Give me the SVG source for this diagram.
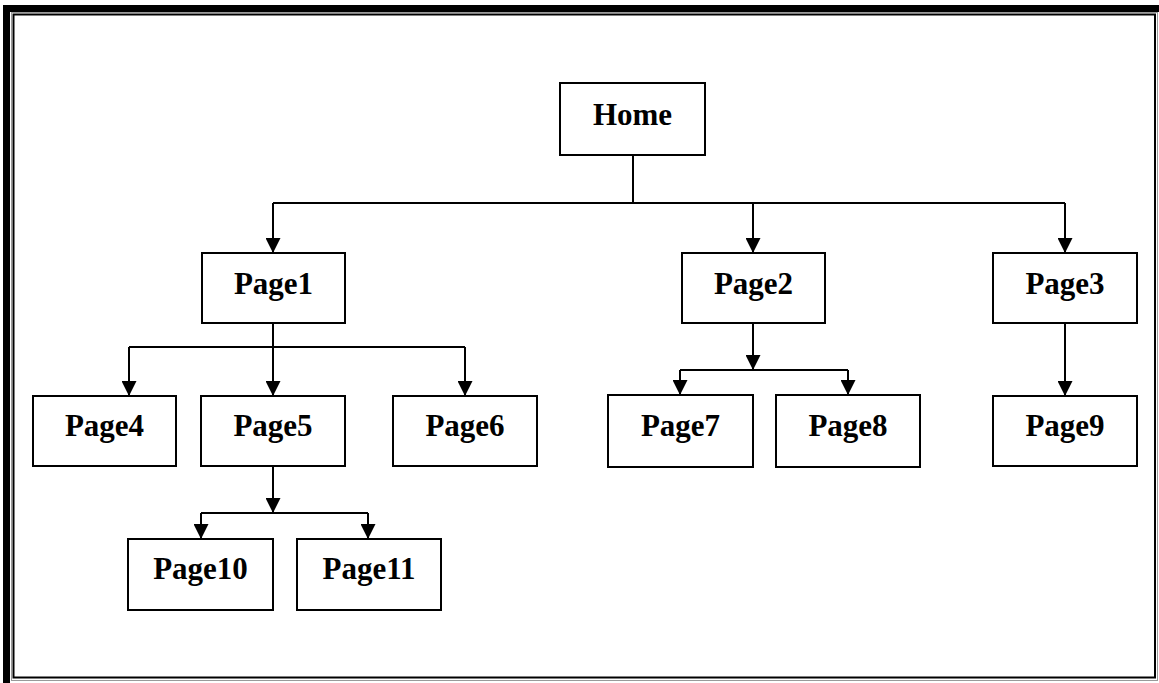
<svg xmlns="http://www.w3.org/2000/svg" width="1159" height="683" viewBox="0 0 1159 683">
  <defs>
    <marker id="arrow" viewBox="0 0 15 15" refX="15" refY="7.5" markerWidth="15" markerHeight="15" markerUnits="userSpaceOnUse" orient="auto">
      <path d="M0,0 L15,7.5 L0,15 Z" fill="#000"/>
    </marker>
    <style>
      .box { fill: #fff; stroke: #000; stroke-width: 2; }
      .lbl { font-family: "Liberation Serif", "Times New Roman", serif; font-weight: bold; font-size: 31px; text-anchor: middle; fill: #000; }
      .line { fill: none; stroke: #000; stroke-width: 2; }
      .arr { fill: none; stroke: #000; stroke-width: 2; marker-end: url(#arrow); }
    </style>
  </defs>

  <rect width="1159" height="683" fill="#fff"/>

  <!-- page frame: thick outer band with thin double inner rule -->
  <g id="frame">
    <rect x="3" y="5" width="7" height="678" fill="#000"/>
    <rect x="3" y="5" width="1156" height="7" fill="#000"/>
    <rect x="11.5" y="12.5" width="1146" height="668" fill="none" stroke="#9a9a9a" stroke-width="1"/>
    <rect x="13.5" y="14.5" width="1141.5" height="663" fill="none" stroke="#000" stroke-width="2"/>
  </g>

  <!-- connectors -->
  <g id="connectors">
    <path class="line" d="M633,155 V203 M273,203 H1065"/>
    <path class="arr" d="M273,203 V253"/>
    <path class="arr" d="M753,203 V253"/>
    <path class="arr" d="M1065,203 V253"/>

    <path class="line" d="M273,323 V347 M129,347 H465"/>
    <path class="arr" d="M129,347 V396"/>
    <path class="arr" d="M273,347 V396"/>
    <path class="arr" d="M465,347 V396"/>

    <path class="arr" d="M753,323 V370"/>
    <path class="line" d="M680,370 H848"/>
    <path class="arr" d="M680,370 V395"/>
    <path class="arr" d="M848,370 V395"/>

    <path class="arr" d="M1065,323 V396"/>

    <path class="arr" d="M273,466 V513"/>
    <path class="line" d="M201,513 H368"/>
    <path class="arr" d="M201,513 V539"/>
    <path class="arr" d="M368,513 V539"/>
  </g>

  <g id="home"><rect class="box" x="560" y="83" width="145" height="72"/><text class="lbl" x="632.5" y="125">Home</text></g>
  <g id="page1"><rect class="box" x="202" y="253" width="143" height="70"/><text class="lbl" x="273.5" y="294">Page1</text></g>
  <g id="page2"><rect class="box" x="682" y="253" width="143" height="70"/><text class="lbl" x="753.5" y="294">Page2</text></g>
  <g id="page3"><rect class="box" x="993" y="253" width="144" height="70"/><text class="lbl" x="1065" y="294">Page3</text></g>
  <g id="page4"><rect class="box" x="33" y="396" width="143" height="70"/><text class="lbl" x="104.5" y="436">Page4</text></g>
  <g id="page5"><rect class="box" x="201" y="396" width="144" height="70"/><text class="lbl" x="273" y="436">Page5</text></g>
  <g id="page6"><rect class="box" x="393" y="396" width="144" height="70"/><text class="lbl" x="465" y="436">Page6</text></g>
  <g id="page7"><rect class="box" x="608" y="395" width="145" height="72"/><text class="lbl" x="680.5" y="436">Page7</text></g>
  <g id="page8"><rect class="box" x="776" y="395" width="144" height="72"/><text class="lbl" x="848" y="436">Page8</text></g>
  <g id="page9"><rect class="box" x="993" y="396" width="144" height="70"/><text class="lbl" x="1065" y="436">Page9</text></g>
  <g id="page10"><rect class="box" x="128" y="539" width="145" height="71"/><text class="lbl" x="200.5" y="579">Page10</text></g>
  <g id="page11"><rect class="box" x="297" y="539" width="144" height="71"/><text class="lbl" x="369" y="579">Page11</text></g>
</svg>
